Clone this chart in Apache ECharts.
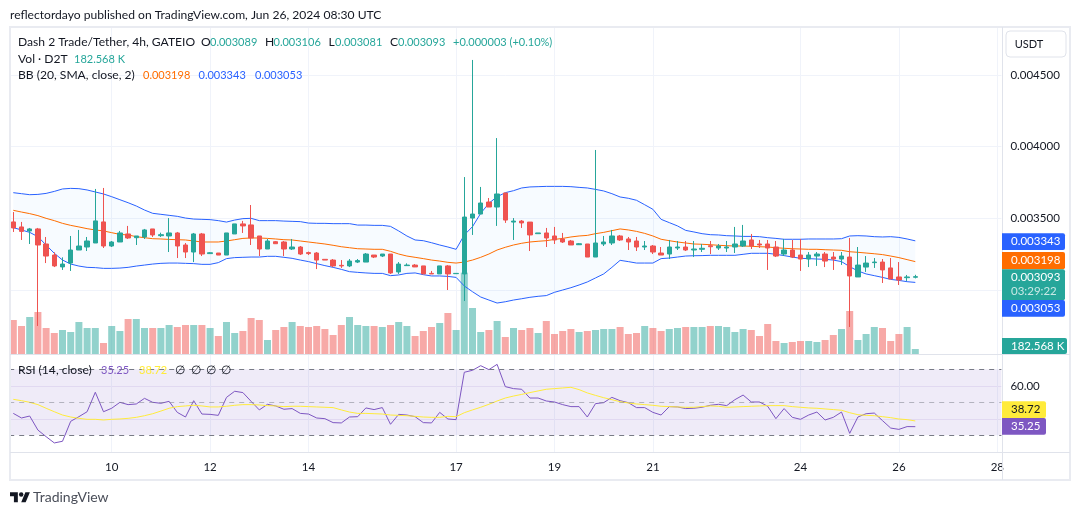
<!DOCTYPE html>
<html>
<head>
<meta charset="utf-8">
<style>
  html, body { margin: 0; padding: 0; background: #fff; }
  #chart { width: 1080px; height: 515px; }
</style>
<script src="https://cdn.jsdelivr.net/npm/echarts@6/dist/echarts.min.js"></script>
</head>
<body>
<div id="chart"></div>
<script>
// 4h candles, first one is Jun 8 00:00
const opens = [
  0.003475,0.003440,0.003412,0.003426,0.003321,0.003244,0.003161,0.003188,0.003279,0.003300,0.003328,0.003475,
  0.003307,0.003335,0.003391,0.003365,0.003370,0.003426,0.003379,0.003377,0.003398,0.003314,0.003265,0.003391,
  0.003254,0.003258,0.003244,0.003391,0.003461,0.003454,0.003377,0.003286,0.003337,0.003335,0.003286,0.003300,
  0.003261,0.003258,0.003214,0.003209,0.003172,0.003168,0.003195,0.003195,0.003244,0.003237,0.003251,0.003126,
  0.003170,0.003174,0.003168,0.003116,0.003112,0.003168,0.003114,0.003112,0.003502,0.003530,0.003614,0.003579,
  0.003677,0.003474,0.003481,0.003474,0.003393,0.003398,0.003377,0.003356,0.003342,0.003316,0.003321,0.003230,
  0.003321,0.003328,0.003377,0.003356,0.003342,0.003300,0.003307,0.003258,0.003251,0.003293,0.003300,0.003279,
  0.003284,0.003309,0.003293,0.003293,0.003300,0.003307,0.003349,0.003321,0.003321,0.003300,0.003251,0.003279,
  0.003244,0.003216,0.003237,0.003251,0.003230,0.003216,0.003230,0.003091,0.003160,0.003191,0.003195,0.003154,
  0.003091,0.003086,0.003089
];
const closes = [
  0.003433,0.003409,0.003426,0.003314,0.003237,0.003168,0.003181,0.003279,0.003307,0.003342,0.003482,0.003307,
  0.003335,0.003398,0.003363,0.003377,0.003419,0.003384,0.003386,0.003398,0.003307,0.003265,0.003391,0.003251,
  0.003260,0.003244,0.003398,0.003461,0.003447,0.003363,0.003286,0.003342,0.003323,0.003286,0.003300,0.003251,
  0.003254,0.003209,0.003209,0.003168,0.003168,0.003202,0.003205,0.003251,0.003230,0.003251,0.003119,0.003181,
  0.003174,0.003161,0.003112,0.003112,0.003168,0.003112,0.003116,0.003509,0.003530,0.003607,0.003579,0.003670,
  0.003488,0.003481,0.003468,0.003384,0.003398,0.003363,0.003349,0.003335,0.003314,0.003323,0.003230,0.003328,
  0.003335,0.003377,0.003349,0.003335,0.003300,0.003307,0.003265,0.003244,0.003300,0.003300,0.003279,0.003286,
  0.003291,0.003302,0.003307,0.003300,0.003321,0.003342,0.003307,0.003314,0.003293,0.003237,0.003279,0.003230,
  0.003216,0.003244,0.003251,0.003202,0.003216,0.003237,0.003098,0.003174,0.003188,0.003195,0.003140,0.003077,
  0.003070,0.003091,0.003093
];
const lows = [
  0.003405,0.003349,0.003321,0.002749,0.003188,0.003160,0.003140,0.003133,0.003279,0.003272,0.003328,0.003293,
  0.003300,0.003335,0.003356,0.003314,0.003356,0.003370,0.003370,0.003265,0.003223,0.003223,0.003195,0.003237,
  0.003251,0.003244,0.003244,0.003391,0.003398,0.003314,0.003237,0.003286,0.003321,0.003237,0.003279,0.003244,
  0.003244,0.003146,0.003209,0.003160,0.003154,0.003160,0.003188,0.003195,0.003223,0.003230,0.003112,0.003112,
  0.003168,0.003160,0.003112,0.003112,0.003112,0.003000,0.003114,0.002923,0.003384,0.003530,0.003579,0.003447,
  0.003468,0.003349,0.003433,0.003272,0.003393,0.003300,0.003321,0.003328,0.003314,0.003314,0.003230,0.003230,
  0.003307,0.003314,0.003342,0.003279,0.003272,0.003279,0.003251,0.003244,0.003216,0.003279,0.003272,0.003230,
  0.003265,0.003251,0.003279,0.003265,0.003258,0.003300,0.003286,0.003293,0.003140,0.003230,0.003237,0.003223,
  0.003133,0.003160,0.003168,0.003160,0.003140,0.003175,0.002742,0.003091,0.003126,0.003154,0.003049,0.003077,
  0.003035,0.003063,0.003081
];
const highs = [
  0.003544,0.003475,0.003433,0.003433,0.003370,0.003263,0.003228,0.003377,0.003419,0.003370,0.003705,0.003712,
  0.003342,0.003412,0.003447,0.003377,0.003426,0.003426,0.003400,0.003502,0.003405,0.003328,0.003398,0.003398,
  0.003265,0.003258,0.003398,0.003461,0.003482,0.003593,0.003377,0.003356,0.003342,0.003342,0.003356,0.003307,
  0.003268,0.003265,0.003214,0.003216,0.003209,0.003216,0.003216,0.003258,0.003244,0.003251,0.003251,0.003195,
  0.003186,0.003181,0.003168,0.003133,0.003168,0.003174,0.003116,0.003788,0.004605,0.003719,0.003642,0.004060,
  0.003677,0.003502,0.003488,0.003474,0.003398,0.003433,0.003440,0.003398,0.003349,0.003328,0.003321,0.003977,
  0.003377,0.003419,0.003384,0.003370,0.003370,0.003342,0.003314,0.003300,0.003349,0.003342,0.003342,0.003342,
  0.003321,0.003342,0.003321,0.003342,0.003440,0.003454,0.003391,0.003349,0.003349,0.003342,0.003356,0.003349,
  0.003356,0.003265,0.003265,0.003265,0.003265,0.003265,0.003363,0.003300,0.003237,0.003223,0.003216,0.003223,
  0.003195,0.003105,0.003106
];
// volume in thousands of D2T
const volumes = [
  1241,1022,1351,1533,949,767,876,803,1168,949,949,402,1022,840,1278,1278,949,949,949,1059,986,1059,1059,1059,
  949,657,1168,767,840,1314,1241,511,876,986,1168,1022,986,1022,913,694,1059,1351,1059,1022,1022,986,1059,1168,
  1022,657,840,986,1132,1497,876,2969,1679,803,876,1205,621,949,876,949,767,1205,730,840,913,803,840,876,
  913,913,986,730,767,1022,949,840,913,949,986,986,986,1022,1022,986,803,913,876,657,1095,475,402,438,
  475,475,438,511,694,913,1570,511,730,986,949,475,730,986,182.568
];
// Bollinger bands
const bbUpper = [
  0.003679,0.003672,0.003665,0.003667,0.003674,0.003688,0.003705,0.003709,0.003707,0.003698,0.003684,0.003670,
  0.003651,0.003630,0.003609,0.003586,0.003558,0.003535,0.003528,0.003521,0.003514,0.003502,0.003495,0.003493,
  0.003491,0.003484,0.003474,0.003488,0.003498,0.003500,0.003484,0.003484,0.003484,0.003481,0.003479,0.003477,
  0.003467,0.003465,0.003465,0.003463,0.003463,0.003463,0.003453,0.003453,0.003451,0.003451,0.003444,0.003412,
  0.003377,0.003349,0.003344,0.003330,0.003314,0.003300,0.003284,0.003384,0.003442,0.003535,0.003605,0.003651,
  0.003679,0.003693,0.003712,0.003719,0.003721,0.003723,0.003723,0.003723,0.003721,0.003716,0.003712,0.003702,
  0.003691,0.003672,0.003649,0.003640,0.003626,0.003595,0.003563,0.003493,0.003470,0.003447,0.003416,0.003405,
  0.003393,0.003386,0.003384,0.003379,0.003377,0.003374,0.003374,0.003372,0.003365,0.003360,0.003354,0.003354,
  0.003354,0.003356,0.003356,0.003356,0.003356,0.003358,0.003377,0.003379,0.003377,0.003372,0.003370,0.003372,
  0.003367,0.003356,0.003343
];
const bbMiddle = [
  0.003556,0.003544,0.003533,0.003519,0.003500,0.003484,0.003465,0.003451,0.003440,0.003428,0.003419,0.003412,
  0.003400,0.003388,0.003384,0.003372,0.003365,0.003358,0.003356,0.003353,0.003351,0.003349,0.003342,0.003335,
  0.003335,0.003335,0.003342,0.003351,0.003360,0.003363,0.003363,0.003360,0.003356,0.003351,0.003349,0.003342,
  0.003335,0.003328,0.003321,0.003312,0.003302,0.003295,0.003288,0.003286,0.003284,0.003284,0.003270,0.003251,
  0.003237,0.003228,0.003219,0.003209,0.003202,0.003193,0.003188,0.003195,0.003209,0.003228,0.003251,0.003279,
  0.003298,0.003314,0.003326,0.003335,0.003340,0.003344,0.003353,0.003360,0.003370,0.003377,0.003381,0.003393,
  0.003402,0.003414,0.003426,0.003419,0.003409,0.003395,0.003377,0.003354,0.003344,0.003335,0.003328,0.003321,
  0.003319,0.003316,0.003312,0.003309,0.003307,0.003307,0.003305,0.003302,0.003300,0.003295,0.003291,0.003288,
  0.003286,0.003284,0.003284,0.003281,0.003279,0.003277,0.003267,0.003263,0.003258,0.003253,0.003247,0.003237,
  0.003226,0.003212,0.003198
];
const bbLower = [
  0.003435,0.003419,0.003402,0.003372,0.003314,0.003256,0.003209,0.003181,0.003167,0.003158,0.003156,0.003151,
  0.003151,0.003153,0.003158,0.003167,0.003174,0.003181,0.003186,0.003188,0.003188,0.003186,0.003184,0.003179,
  0.003179,0.003191,0.003219,0.003226,0.003228,0.003230,0.003230,0.003235,0.003235,0.003228,0.003221,0.003209,
  0.003198,0.003184,0.003170,0.003158,0.003144,0.003128,0.003123,0.003119,0.003116,0.003116,0.003100,0.003105,
  0.003116,0.003119,0.003107,0.003098,0.003098,0.003095,0.003088,0.003028,0.002988,0.002951,0.002930,0.002909,
  0.002918,0.002930,0.002939,0.002949,0.002956,0.002961,0.002984,0.003000,0.003016,0.003035,0.003056,0.003084,
  0.003112,0.003158,0.003207,0.003198,0.003188,0.003188,0.003188,0.003219,0.003223,0.003230,0.003237,0.003239,
  0.003240,0.003242,0.003242,0.003242,0.003242,0.003249,0.003256,0.003256,0.003256,0.003249,0.003240,0.003230,
  0.003221,0.003219,0.003216,0.003214,0.003209,0.003198,0.003163,0.003133,0.003112,0.003100,0.003088,0.003074,
  0.003067,0.003058,0.003053
];
const rsiValues = [
  43.3,40.5,41.7,33.2,29.2,25.4,26.4,38.5,41.3,44.3,56.1,44.3,46.4,50,48.6,49,52.4,50,49.4,50.6,43.9,41.1,51,42.9,
  42.7,42.1,53,56.7,55.9,50.6,45.4,48.8,47.8,45.8,46.2,43.3,42.9,40.5,40.1,37.7,37.5,41.1,41.3,46.6,45.6,46.8,36.7,42.7,
  42.3,41.3,37.7,37.5,43.9,39.9,39.5,68.2,69.4,72.2,69.8,73,59.5,58.3,57.9,52.6,52.6,50.8,50.2,48.6,47.4,47.4,41.1,49.2,
  49.8,53,51,49.8,46.8,46.8,43.9,42.3,47.4,47.2,46.2,46.4,47,48.2,48.8,48,51.6,54.4,50.2,50.2,47.6,40.1,46.2,40.9,
  39.7,42.3,44.1,39.3,40.9,44.1,31.2,41.1,43.1,43.5,38.9,34.4,33.6,35.3,35.25
];
const rsiMa = [
  51.8,51,50,48.6,46.4,44.3,42.3,41.1,40.3,39.7,39.7,39.3,39.7,39.9,40.3,40.9,41.9,43.1,44.7,46.4,47.4,47.8,48.2,47.8,
  47.2,47.2,47.6,48.2,48.6,48.6,48.4,48,47.8,47.4,47.6,47.6,47.4,47.2,47,46.8,45.4,44.1,43.3,43.3,43.1,42.9,42.3,42.1,
  41.9,41.5,41.1,40.9,40.9,41.5,41.3,43.7,45.4,47,48.8,50.8,52.6,53.8,54.8,55.9,56.9,57.9,58.3,58.7,59.1,57.7,55.7,54.2,
  52.8,51.6,50.4,49.6,49,48.6,48.2,47.6,47.4,47.2,47,47,47.4,47.8,47.6,47,47.2,47.4,47.6,47.8,48,48,48,47.4,
  47,46.6,46.4,46,45.6,45.2,43.7,42.5,42.1,41.9,41.3,40.7,39.9,39.5,38.72
];

const barCount = 121; // the axis runs on past the last candle up to the 28th
const tickDays = { 12: '10', 24: '12', 36: '14', 54: '17', 66: '19', 78: '21', 96: '24', 108: '26', 120: '28' };
const priceTicks = [0.003, 0.0035, 0.004, 0.0045];
const rsiLabels = [60];
const rsiGrid = [40, 60];
const rsiLevels = [30, 50, 70];

const categories = [];
for (let i = 0; i < barCount; i++) categories.push(tickDays[i] || '');

const GREEN = '#26a69a', RED = '#ef5350', BLUE = '#2962ff', ORANGE = '#ff6d00', PURPLE = '#7e57c2';
const GRID = '#f0f3fa', FRAME = '#e0e3eb', TEXT = '#131722';
const FONT = 'Lato, "Liberation Sans", sans-serif';
const FONT_SIZE = 11.5;
const HEAD_SIZE = 12.1, NUM_SIZE = 11;
const isTick = i => tickDays[i] !== undefined;

const candles = opens.map((o, i) => [o, closes[i], lows[i], highs[i]]);
const volumeBars = volumes.map((v, i) => ({
  value: v,
  itemStyle: { color: closes[i] >= opens[i] ? 'rgba(38,166,154,0.5)' : 'rgba(239,83,80,0.5)' }
}));
const bbWidth = bbUpper.map((v, i) => v - bbLower[i]);

// small helpers for the text and price tags around the chart
function label(x, y, text, fill, size, align) {
  return { type: 'text', z: 50, zlevel: 1, x: x, y: y, silent: true, style: {
    text: text, fill: fill || TEXT, font: (size || HEAD_SIZE) + 'px ' + FONT,
    textAlign: align || 'left', textVerticalAlign: 'middle'
  } };
}
function tag(x0, x1, y0, y1, color, text, textColor) {
  return [
    { type: 'rect', z: 60, zlevel: 1, silent: true, shape: { x: x0, y: y0, width: x1 - x0, height: y1 - y0, r: [0, 2, 2, 0] }, style: { fill: color } },
    { type: 'text', z: 61, zlevel: 1, x: x0 + 9, y: (y0 + y1) / 2, silent: true, style: {
      text: text, fill: textColor || '#fff', font: FONT_SIZE + 'px ' + FONT, textVerticalAlign: 'middle' } }
  ];
}
// TradingView mark, three plain shapes
function logo(x, y, s) {
  const pts = list => list.map(p => [x + p[0] * s, y + p[1] * s]);
  return [
    { type: 'polygon', z: 50, zlevel: 1, silent: true, shape: { points: pts([[0, 4], [14, 4], [14, 22], [7, 22], [7, 11], [0, 11]]) }, style: { fill: TEXT } },
    { type: 'polygon', z: 50, zlevel: 1, silent: true, shape: { points: pts([[20, 22], [27.5, 4], [35.5, 4], [28, 22]]) }, style: { fill: TEXT } },
    { type: 'circle', z: 50, zlevel: 1, silent: true, shape: { cx: x + 20 * s, cy: y + 8 * s, r: 4 * s }, style: { fill: TEXT } }
  ];
}

const graphics = [
  { type: 'rect', z: 40, silent: true, shape: { x: 10, y: 27, width: 1060, height: 453 }, style: { fill: 'none', stroke: '#e9ebf1', lineWidth: 2 } },
  { type: 'line', z: 40, silent: true, shape: { x1: 10, y1: 354.5, x2: 1070, y2: 354.5 }, style: { stroke: FRAME, lineWidth: 1 } },
  { type: 'line', z: 40, silent: true, shape: { x1: 10, y1: 452.5, x2: 1070, y2: 452.5 }, style: { stroke: FRAME, lineWidth: 1 } },
  { type: 'line', z: 40, silent: true, shape: { x1: 1002.5, y1: 27, x2: 1002.5, y2: 480 }, style: { stroke: FRAME, lineWidth: 1 } },
  { type: 'rect', z: 41, silent: true, shape: { x: 1006, y: 31, width: 60, height: 26, r: 4 }, style: { fill: '#fff', stroke: FRAME, lineWidth: 1 } },
  label(1029, 44, 'USDT', TEXT, 11, 'center'),

  label(10, 15, 'reflectordayo published on TradingView.com, Jun 26, 2024 08:30 UTC'),
  label(18, 42, 'Dash 2 Trade/Tether, 4h, GATEIO'),
  label(201, 42, 'O'), label(210, 42, '0.003089', GREEN, NUM_SIZE),
  label(265, 42, 'H'), label(273.5, 42, '0.003106', GREEN, NUM_SIZE),
  label(328.5, 42, 'L'), label(335, 42, '0.003081', GREEN, NUM_SIZE),
  label(390, 42, 'C'), label(398, 42, '0.003093', GREEN, NUM_SIZE),
  label(453, 42, '+0.000003 (+0.10%)', GREEN, NUM_SIZE),
  label(18, 59, 'Vol · D2T'), label(74, 59, '182.568 K', GREEN, NUM_SIZE),
  label(18, 75, 'BB (20, SMA, close, 2)'),
  label(143, 75, '0.003198', ORANGE, NUM_SIZE), label(198.5, 75, '0.003343', BLUE, NUM_SIZE), label(255, 75, '0.003053', BLUE, NUM_SIZE),

  label(18, 370, 'RSI (14, close)'),
  label(101, 370, '35.25', PURPLE, NUM_SIZE), label(139, 370, '38.72', '#ffeb3b', NUM_SIZE),
  label(175, 370, '∅'), label(191, 370, '∅'), label(206, 370, '∅'), label(221, 370, '∅'),

  label(33, 497, 'TradingView', '#4a4e59', 14)
]
  .concat(logo(10, 490, 0.56))
  .concat(tag(1002, 1065, 233.3, 250, BLUE, '0.003343'))
  .concat(tag(1002, 1065, 252, 269.3, ORANGE, '0.003198'))
  .concat([{ type: 'rect', z: 60, zlevel: 1, silent: true, shape: { x: 1002, y: 269.3, width: 63, height: 31, r: [0, 2, 2, 0] }, style: { fill: GREEN } },
    Object.assign(label(1011, 277.5, '0.003093', '#fff', FONT_SIZE), { z: 61 }),
    Object.assign(label(1011, 291.5, '03:29:22', 'rgba(255,255,255,0.75)', FONT_SIZE), { z: 61 })])
  .concat(tag(1002, 1065, 300, 316.7, BLUE, '0.003053'))
  .concat(tag(1002, 1067, 338, 354, GREEN, '182.568 K'))
  .concat(tag(1002, 1046, 401.3, 418, '#ffeb3b', '38.72', TEXT))
  .concat(tag(1002, 1046, 418, 434.7, PURPLE, '35.25'));

const chart = echarts.init(document.getElementById('chart'), null, { renderer: 'canvas' });

chart.setOption({
  animation: false,
  backgroundColor: '#fff',
  textStyle: { fontFamily: FONT },
  grid: [
    { left: 9.2, top: 28, width: 992.2, height: 326 },
    { left: 9.2, top: 355, width: 992.2, height: 97 }
  ],
  xAxis: [
    {
      type: 'category', gridIndex: 0, data: categories,
      axisLine: { show: false }, axisTick: { show: false }, axisLabel: { show: false },
      splitLine: { show: true, alignWithLabel: true, interval: isTick, lineStyle: { color: GRID, width: 1 } }
    },
    {
      type: 'category', gridIndex: 1, data: categories,
      axisLine: { show: false }, axisTick: { show: false },
      axisLabel: { show: true, interval: isTick, color: TEXT, fontSize: FONT_SIZE, margin: 9, fontFamily: FONT },
      splitLine: { show: true, alignWithLabel: true, interval: isTick, lineStyle: { color: GRID, width: 1 } }
    }
  ],
  yAxis: [
    {
      type: 'value', gridIndex: 0, position: 'right', scale: true,
      min: 0.0025535, max: 0.004828,
      axisLine: { show: false },
      axisTick: { show: false, customValues: priceTicks },
      axisLabel: { customValues: priceTicks, color: TEXT, fontSize: FONT_SIZE, margin: 9, fontFamily: FONT, formatter: v => v.toFixed(6) },
      splitLine: { show: true, lineStyle: { color: GRID, width: 1 } }
    },
    {
      type: 'value', gridIndex: 0, position: 'right', show: false,
      min: 0, max: 11899, splitLine: { show: false }
    },
    {
      type: 'value', gridIndex: 1, position: 'right',
      min: 19.9, max: 78.67,
      axisLine: { show: false },
      axisTick: { show: false, customValues: rsiGrid },
      axisLabel: { customValues: rsiLabels, color: TEXT, fontSize: FONT_SIZE, margin: 9, fontFamily: FONT, formatter: v => v.toFixed(2) },
      splitLine: { show: true, lineStyle: { color: 'rgba(126,87,194,0.12)', width: 1 } }
    }
  ],
  series: [
    {
      name: 'Vol', type: 'bar', xAxisIndex: 0, yAxisIndex: 1, z: 1,
      barWidth: 7, data: volumeBars
    },
    {
      name: 'BB base', type: 'line', xAxisIndex: 0, yAxisIndex: 0, stack: 'bb', z: 2,
      symbol: 'none', lineStyle: { opacity: 0 }, data: bbLower
    },
    {
      name: 'BB fill', type: 'line', xAxisIndex: 0, yAxisIndex: 0, stack: 'bb', z: 2,
      symbol: 'none', lineStyle: { opacity: 0 }, areaStyle: { color: 'rgba(33,150,243,0.05)' }, data: bbWidth
    },
    { name: 'BB upper', type: 'line', xAxisIndex: 0, yAxisIndex: 0, z: 3, symbol: 'none', lineStyle: { color: BLUE, width: 1 }, data: bbUpper },
    { name: 'BB lower', type: 'line', xAxisIndex: 0, yAxisIndex: 0, z: 3, symbol: 'none', lineStyle: { color: BLUE, width: 1 }, data: bbLower },
    { name: 'BB basis', type: 'line', xAxisIndex: 0, yAxisIndex: 0, z: 3, symbol: 'none', lineStyle: { color: ORANGE, width: 1 }, data: bbMiddle },
    {
      name: 'D2T/USDT', type: 'candlestick', xAxisIndex: 0, yAxisIndex: 0, z: 4,
      barWidth: 5,
      itemStyle: { color: GREEN, color0: RED, borderColor: GREEN, borderColor0: RED, borderWidth: 1 },
      data: candles
    },
    {
      name: 'RSI', type: 'line', xAxisIndex: 1, yAxisIndex: 2, z: 3,
      symbol: 'none', lineStyle: { color: PURPLE, width: 1 }, data: rsiValues,
      markArea: {
        silent: true, z: 1,
        itemStyle: { color: 'rgba(126,87,194,0.12)' },
        data: [[{ yAxis: rsiLevels[0] }, { yAxis: rsiLevels[2] }]]
      },
      markLine: {
        silent: true, symbol: 'none', label: { show: false },
        lineStyle: { type: [5, 5], width: 1, color: '#787b86' },
        data: [
          { yAxis: rsiLevels[0] },
          { yAxis: rsiLevels[1], lineStyle: { color: 'rgba(120,123,134,0.5)' } },
          { yAxis: rsiLevels[2] }
        ]
      }
    },
    { name: 'RSI MA', type: 'line', xAxisIndex: 1, yAxisIndex: 2, z: 3, symbol: 'none', lineStyle: { color: '#ffeb3b', width: 1 }, data: rsiMa }
  ],
  graphic: graphics
});
</script>
</body>
</html>
